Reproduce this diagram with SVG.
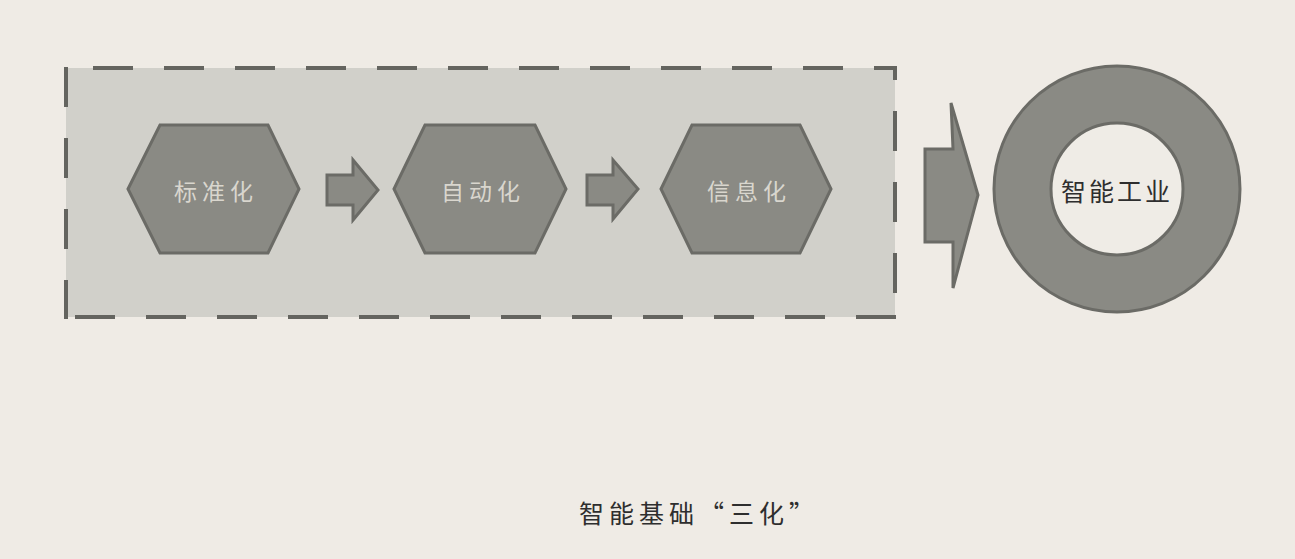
<svg xmlns="http://www.w3.org/2000/svg" width="1295" height="559" viewBox="0 0 1295 559">
<style>
.shape{fill:#8a8a84;stroke:#6b6b66;stroke-width:3;stroke-linejoin:miter}
.dash{stroke:#64645f;stroke-width:4;stroke-dasharray:40 31;fill:none}
.lbl{font-family:"Noto Sans CJK SC","Noto Sans CJK TC",sans-serif;font-size:23px;fill:#d9d6ce;text-anchor:middle;dominant-baseline:central;letter-spacing:5px}
.dark{font-family:"Noto Sans CJK SC","Noto Sans CJK TC",sans-serif;fill:#2e2e2e;text-anchor:middle;dominant-baseline:central}
</style>
<rect width="1295" height="559" fill="#efebe5"/>
<g id="frame">
<rect x="66" y="68" width="829" height="249" fill="#d1d0ca"/>
<line class="dash" x1="64" y1="68" x2="897" y2="68" stroke-dashoffset="42"/>
<line class="dash" x1="895" y1="66" x2="895" y2="319" stroke-dashoffset="26"/>
<line class="dash" x1="64" y1="317" x2="897" y2="317" stroke-dashoffset="60"/>
<line class="dash" x1="66" y1="67" x2="66" y2="319" stroke-dashoffset="0"/>
</g>
<g id="node-standard">
<polygon class="shape" points="128,189 160,125 268,125 299,189 268,253 160,253"/>
<text class="lbl" x="216" y="190">标准化</text>
</g>
<g id="node-auto">
<polygon class="shape" points="394,189 425,125 535,125 566,189 535,253 425,253"/>
<text class="lbl" x="483" y="190">自动化</text>
</g>
<g id="node-info">
<polygon class="shape" points="661,189 692,125 800,125 831,189 800,253 692,253"/>
<text class="lbl" x="749" y="190">信息化</text>
</g>
<g id="node-smart">
<circle cx="1117" cy="189" r="123" fill="#8a8a84" stroke="#6b6b66" stroke-width="3"/>
<circle cx="1117" cy="189" r="66" fill="#efece6" stroke="#6b6b66" stroke-width="3"/>
<text class="dark" x="1117" y="190" font-size="25" letter-spacing="3">智能工业</text>
</g>
<g id="connectors">
<polygon class="shape" points="327,175 353,175 353,160 378,190 353,220 353,205 327,205"/>
<polygon class="shape" points="587,175 613,175 613,160 638,189 613,219 613,205 587,205"/>
<polygon class="shape" points="925,149 953,149 951,103 978,195 953,288 953,242 925,242"/>
</g>
<g id="caption">
<text class="dark" x="699" y="512" font-size="25" letter-spacing="5">智能基础“三化”</text>
</g>
</svg>
